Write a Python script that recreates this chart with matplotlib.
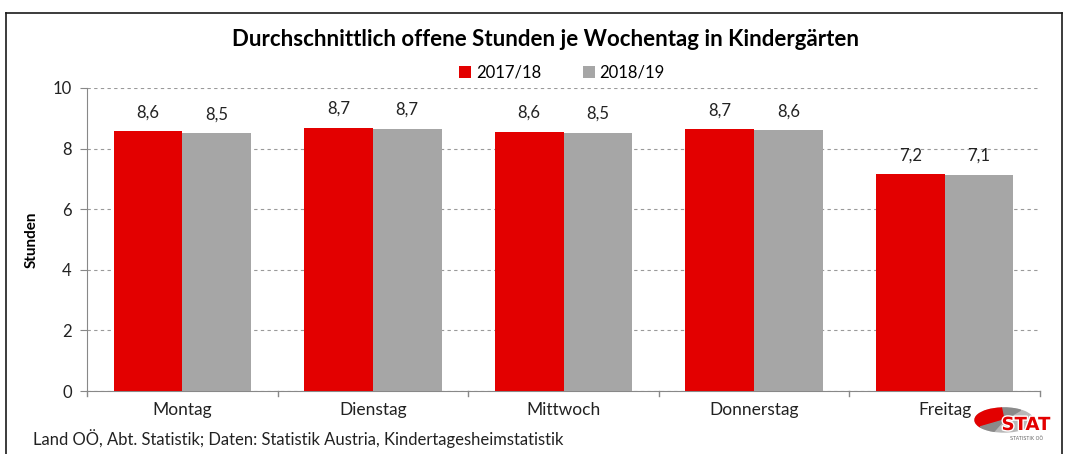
import matplotlib
matplotlib.use("Agg")
import matplotlib.pyplot as plt
import numpy as np
from matplotlib.patches import Wedge
from matplotlib.transforms import Affine2D
import matplotlib.patheffects as pe

categories = ["Montag", "Dienstag", "Mittwoch", "Donnerstag", "Freitag"]
series_names = ["2017/18", "2018/19"]
values_1718 = [8.57, 8.69, 8.56, 8.65, 7.15]
values_1819 = [8.51, 8.66, 8.53, 8.60, 7.14]
labels_1718 = ["8,6", "8,7", "8,6", "8,7", "7,2"]
labels_1819 = ["8,5", "8,7", "8,5", "8,6", "7,1"]
yticks = [0, 2, 4, 6, 8, 10]

RED = "#E30000"
GRAY = "#A6A6A6"
FONT = "Lato"

W, H = 1068, 454
fig = plt.figure(figsize=(W / 100, H / 100), dpi=100)
fig.patch.set_facecolor("white")

# figure border (open at bottom)
for xs, ys in [([6, 6], [454, 13]), ([6, 1062], [13, 13]), ([1062, 1062], [13, 454])]:
    fig.add_artist(plt.Line2D([v / W for v in xs], [1 - v / H for v in ys], color="#1a1a1a", lw=1.2,
                              transform=fig.transFigure))

ax_l, ax_r, ax_t, ax_b = 87, 1040, 88, 391
ax = fig.add_axes([ax_l / W, 1 - ax_b / H, (ax_r - ax_l) / W, (ax_b - ax_t) / H])

x = np.arange(len(categories))
bw = 0.36
b1 = ax.bar(x - bw / 2, values_1718, width=bw, color=RED, label=series_names[0], zorder=3)
b2 = ax.bar(x + bw / 2, values_1819, width=bw, color=GRAY, label=series_names[1], zorder=3)

for bars, labs in [(b1, labels_1718), (b2, labels_1819)]:
    for rect, lab in zip(bars, labs):
        ax.text(rect.get_x() + rect.get_width() / 2, rect.get_height() + 0.35, lab,
                ha="center", va="bottom", fontsize=12, family=FONT, color="#222222")

ax.set_xlim(-0.5, len(categories) - 0.5)
ax.set_ylim(0, 10)
ax.set_yticks(yticks)
ax.set_yticklabels([str(v) for v in yticks], fontsize=12, family=FONT, color="#222222")
ax.set_xticks(x)
ax.set_xticklabels(categories, fontsize=12.5, family=FONT, color="#222222")
ax.tick_params(axis="x", length=0, pad=8)
ax.tick_params(axis="y", length=5, color="#888888", pad=6)
for b in np.arange(-0.5, len(categories) + 0.5, 1.0):
    ax.plot([b, b], [0, -0.17], color="#888888", lw=1, clip_on=False, zorder=4)

ax.grid(axis="y", linestyle=(0, (3, 3)), color="#9a9a9a", lw=0.8, zorder=0)
for s in ["top", "right"]:
    ax.spines[s].set_visible(False)
ax.spines["left"].set_color("#888888")
ax.spines["bottom"].set_color("#888888")
ax.set_ylabel("Stunden", fontsize=11, family=FONT, fontweight="bold", labelpad=10)

fig.text(545 / W, 1 - 40 / H, "Durchschnittlich offene Stunden je Wochentag in Kindergärten",
         ha="center", va="center", fontsize=16, fontweight="bold", family=FONT)

fig.legend(handles=[b1, b2], labels=series_names, loc="center", bbox_to_anchor=(562 / W, 1 - 73 / H),
           ncol=2, frameon=False, prop={"family": FONT, "size": 12},
           handlelength=0.7, handleheight=0.7, handletextpad=0.3, columnspacing=2.5)

fig.text(33 / W, 1 - 439 / H, "Land OÖ, Abt. Statistik; Daten: Statistik Austria, Kindertagesheimstatistik",
         ha="left", va="center", fontsize=12, family=FONT, color="#222222")

# simple logo (y measured upward from image bottom)
lax = fig.add_axes([970 / W, 8 / H, 85 / W, 42 / H])
lax.set_xlim(970, 1055)
lax.set_ylim(8, 50)
lax.axis("off")
cx, cy, rx, ry = 1004, 34, 29, 12
sc = Affine2D().translate(-cx, -cy).scale(1, ry / rx).translate(cx, cy) + lax.transData
lax.add_patch(Wedge((cx, cy), rx, 0, 360, color="#B8B8B8", transform=sc))
lax.add_patch(Wedge((cx, cy), rx, 55, 95, color="#8A8A8A", transform=sc))
lax.add_patch(Wedge((cx, cy), rx, 95, 215, color=RED, transform=sc))
lax.add_patch(Wedge((cx, cy), rx, 215, 250, color="#8A8A8A", transform=sc))
lax.text(1026, 29, "STAT", ha="center", va="center", fontsize=13, fontweight="bold", color=RED,
         family="DejaVu Sans", path_effects=[pe.withStroke(linewidth=2, foreground="white")])
lax.text(1027, 15, "STATISTIK OÖ", ha="center", va="center", fontsize=3.5, color="#666666",
         family="DejaVu Sans")

fig.savefig("out.png", dpi=100)
